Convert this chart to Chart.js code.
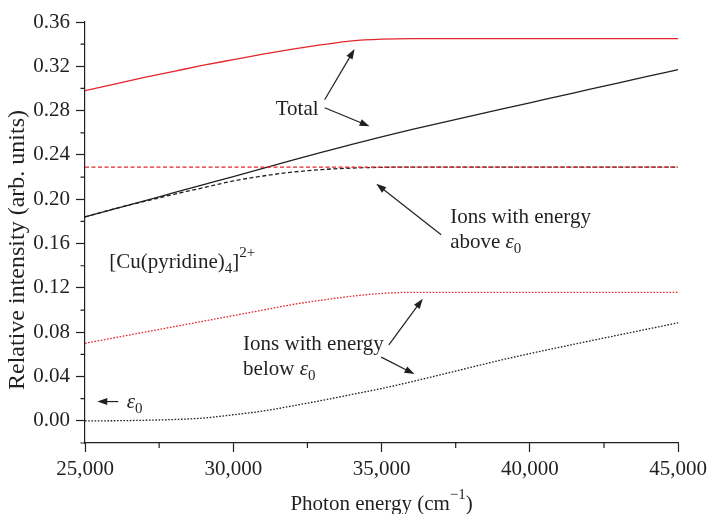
<!DOCTYPE html>
<html lang="en">
<head>
<meta charset="UTF-8">
<title>[Cu(pyridine)4]2+ ion intensities</title>
<script src="https://cdn.jsdelivr.net/npm/chart.js"></script>
<style>
    body { margin: 0; background: #fff; }
    .chart-box { width: 712px; height: 514px; }
</style>
</head>
<body>
<div class="chart-box"><canvas id="ionChart" width="712" height="514"></canvas></div>
<script>
    // photon energy (cm^-1)
    const energy = [25000, 26000, 27000, 28000, 29000, 30000, 31000, 32000, 33000, 34000, 35000,
                    36000, 37000, 38000, 39000, 40000, 41000, 42000, 43000, 44000, 45000];

    // red curves
    const totalRed = [0.298, 0.304, 0.310, 0.3155, 0.321, 0.326, 0.331, 0.3355, 0.3395, 0.343, 0.3445,
                      0.345, 0.345, 0.345, 0.345, 0.345, 0.345, 0.345, 0.345, 0.345, 0.345];
    const aboveRed = [0.229, 0.229, 0.229, 0.229, 0.229, 0.229, 0.229, 0.229, 0.229, 0.229, 0.229,
                      0.229, 0.229, 0.229, 0.229, 0.229, 0.229, 0.229, 0.229, 0.229, 0.229];
    const belowRed = [0.070, 0.075, 0.080, 0.085, 0.090, 0.095, 0.100, 0.105, 0.109, 0.1125, 0.115,
                      0.116, 0.116, 0.116, 0.116, 0.116, 0.116, 0.116, 0.116, 0.116, 0.116];

    // black curves
    const totalBlack = [0.184, 0.1913, 0.1986, 0.2059, 0.2132, 0.2205, 0.2279, 0.2353, 0.2425, 0.2496, 0.2564,
                        0.2628, 0.2690, 0.2751, 0.2811, 0.2871, 0.2931, 0.2991, 0.3051, 0.3111, 0.317];
    const aboveBlack = [0.184, 0.1915, 0.198, 0.2045, 0.2105, 0.2165, 0.221, 0.2245, 0.2268, 0.2282, 0.2288,
                        0.229, 0.229, 0.229, 0.229, 0.229, 0.229, 0.229, 0.229, 0.229, 0.229];
    const belowBlack = [0, 0.0001, 0.0005, 0.0012, 0.0025, 0.0055, 0.0088, 0.0135, 0.0185, 0.0238, 0.0292,
                        0.0352, 0.0417, 0.0482, 0.0547, 0.0607, 0.0664, 0.072, 0.0775, 0.083, 0.0885];

    const xTicks = [25000, 30000, 35000, 40000, 45000];
    const xMinor = [27500, 32500, 37500, 42500];
    const yTicks = [0, 0.04, 0.08, 0.12, 0.16, 0.20, 0.24, 0.28, 0.32, 0.36];
    const yMinor = [-0.02, 0.02, 0.06, 0.10, 0.14, 0.18, 0.22, 0.26, 0.30, 0.34];

    const INK = '#231f20';
    const RED = '#e3262b';
    const FONT = '"Liberation Serif", "Times New Roman", serif';

    // labels placed in data units (x = energy, y = intensity at the text baseline)
    const labels = [
        { x: 31431, y: 0.2763, lines: [[{ t: 'Total' }]] },
        { x: 37313, y: 0.1785, lines: [[{ t: 'Ions with energy' }],
                                       [{ t: 'above ' }, { t: 'ε', i: true }, { t: '0', s: 'sub' }]] },
        { x: 30330, y: 0.0635, lines: [[{ t: 'Ions with energy' }],
                                       [{ t: 'below ' }, { t: 'ε', i: true }, { t: '0', s: 'sub' }]] },
        { x: 25818, y: 0.1379, lines: [[{ t: '[Cu(pyridine)' }, { t: '4', s: 'sub' }, { t: ']' }, { t: '2+', s: 'sup' }]] },
        { x: 26404, y: 0.0117, lines: [[{ t: 'ε', i: true }, { t: '0', s: 'sub' }]] }
    ];
    const arrows = [
        [33081, 0.2898, 34091, 0.3356],
        [33081, 0.2826, 34596, 0.2659],
        [37010, 0.1679, 34822, 0.2140],
        [35246, 0.0686, 36390, 0.1102],
        [34990, 0.0575, 36111, 0.0422],
        [26121, 0.0174, 25414, 0.0174]
    ];

    function pts(ys) {
        return energy.map((e, i) => ({ x: e, y: ys[i] }));
    }

    function series(ys, color, dash) {
        return {
            data: pts(ys),
            borderColor: color,
            borderWidth: 1.3,
            borderDash: dash,
            pointRadius: 0,
            fill: false,
            cubicInterpolationMode: 'monotone'
        };
    }

    function drawRich(ctx, x, y, parts) {
        let cx = x;
        parts.forEach(p => {
            const size = p.s ? 15 : 21;
            ctx.font = (p.i ? 'italic ' : '') + size + 'px ' + FONT;
            let dy = 0;
            if (p.s === 'sub') dy = 5;
            if (p.s === 'sup') dy = -11;
            ctx.fillText(p.t, cx, y + dy);
            cx += ctx.measureText(p.t).width;
        });
        return cx - x;
    }

    function arrow(ctx, x1, y1, x2, y2) {
        const a = Math.atan2(y2 - y1, x2 - x1);
        const len = 10, half = 3.5;
        ctx.beginPath();
        ctx.moveTo(x1, y1);
        ctx.lineTo(x2 - Math.cos(a) * len * 0.8, y2 - Math.sin(a) * len * 0.8);
        ctx.stroke();
        ctx.beginPath();
        ctx.moveTo(x2, y2);
        ctx.lineTo(x2 - Math.cos(a) * len - Math.sin(a) * half, y2 - Math.sin(a) * len + Math.cos(a) * half);
        ctx.lineTo(x2 - Math.cos(a) * len + Math.sin(a) * half, y2 - Math.sin(a) * len - Math.cos(a) * half);
        ctx.closePath();
        ctx.fill();
    }

    const extras = {
        id: 'extras',
        afterDraw(chart) {
            const ctx = chart.ctx;
            const xs = chart.scales.x, ys = chart.scales.y;
            const area = chart.chartArea;
            ctx.save();
            ctx.strokeStyle = INK;
            ctx.fillStyle = INK;
            ctx.lineWidth = 1.2;

            // minor ticks
            ctx.beginPath();
            yMinor.forEach(v => {
                const py = ys.getPixelForValue(v);
                ctx.moveTo(area.left - 4.5, py);
                ctx.lineTo(area.left, py);
            });
            xMinor.forEach(v => {
                const px = xs.getPixelForValue(v);
                ctx.moveTo(px, area.bottom);
                ctx.lineTo(px, area.bottom + 5);
            });
            ctx.stroke();

            // arrows
            arrows.forEach(a => {
                arrow(ctx, xs.getPixelForValue(a[0]), ys.getPixelForValue(a[1]),
                      xs.getPixelForValue(a[2]), ys.getPixelForValue(a[3]));
            });

            // annotations
            ctx.textBaseline = 'alphabetic';
            ctx.textAlign = 'left';
            labels.forEach(l => {
                const px = xs.getPixelForValue(l.x);
                const py = ys.getPixelForValue(l.y);
                l.lines.forEach((line, k) => drawRich(ctx, px, py + k * 24.5, line));
            });

            // axis titles
            const xParts = [{ t: 'Photon energy (cm' }, { t: '\u22121', s: 'sup' }, { t: ')' }];
            let w = 0;
            xParts.forEach(p => {
                ctx.font = (p.s ? 15 : 21) + 'px ' + FONT;
                w += ctx.measureText(p.t).width;
            });
            drawRich(ctx, (area.left + area.right) / 2 - w / 2, 510, xParts);

            ctx.translate(24, 250);
            ctx.rotate(-Math.PI / 2);
            ctx.font = '24px ' + FONT;
            ctx.textAlign = 'center';
            ctx.fillText('Relative intensity (arb. units)', 0, 0);
            ctx.restore();
        }
    };

    const tickFont = { family: FONT, size: 21 };

    new Chart(document.getElementById('ionChart'), {
        type: 'line',
        data: {
            datasets: [
                series(totalRed, RED, []),
                series(aboveRed, RED, [4, 2.5]),
                series(belowRed, RED, [1.6, 1.6]),
                series(totalBlack, INK, []),
                series(aboveBlack, INK, [4, 2.5]),
                series(belowBlack, INK, [1.6, 1.6])
            ]
        },
        options: {
            responsive: false,
            animation: false,
            devicePixelRatio: 1,
            layout: { padding: { top: 22, right: 33, left: 0, bottom: 0 } },
            plugins: {
                legend: { display: false },
                tooltip: { enabled: false }
            },
            scales: {
                x: {
                    type: 'linear',
                    min: 25000,
                    max: 45000,
                    afterBuildTicks: s => { s.ticks = xTicks.map(v => ({ value: v })); },
                    afterFit: s => { s.height = 71; },
                    ticks: {
                        color: INK,
                        font: tickFont,
                        padding: 5,
                        maxRotation: 0,
                        callback: v => v.toLocaleString('en-US')
                    },
                    grid: { drawOnChartArea: false, tickLength: 9, tickColor: INK, tickWidth: 1.2 },
                    border: { color: INK, width: 1.2 }
                },
                y: {
                    min: -0.02,
                    max: 0.36,
                    afterBuildTicks: s => { s.ticks = yTicks.map(v => ({ value: v })); },
                    afterFit: s => { s.width = 85; },
                    ticks: {
                        color: INK,
                        font: tickFont,
                        padding: 6,
                        callback: v => v.toFixed(2)
                    },
                    grid: { drawOnChartArea: false, tickLength: 9, tickColor: INK, tickWidth: 1.2 },
                    border: { color: INK, width: 1.2 }
                }
            }
        },
        plugins: [extras]
    });
</script>
</body>
</html>
